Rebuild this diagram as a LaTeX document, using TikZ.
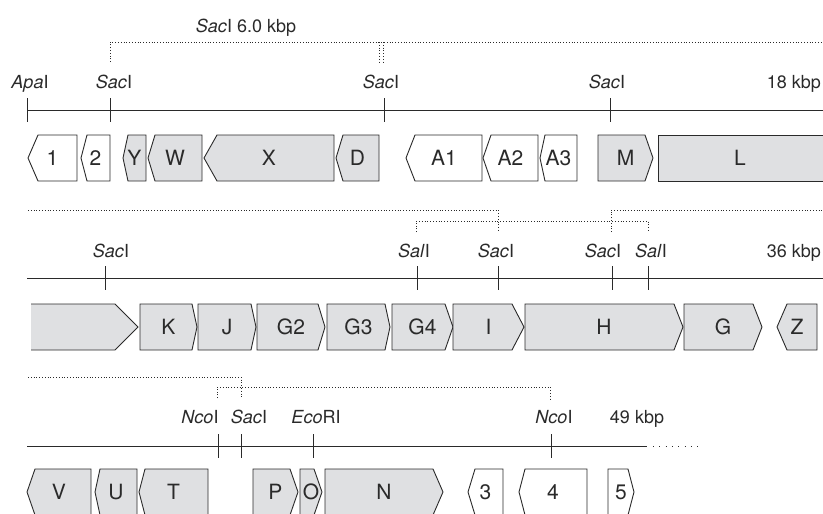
\documentclass[tikz,border=0pt]{standalone}
\usepackage{fontspec}
\setmainfont{TeX Gyre Heros}
\definecolor{genefill}{HTML}{DFE0E2}
\definecolor{ink}{HTML}{2A2A2A}
\tikzset{
  gene/.style={draw=ink, line width=0.9pt, line join=miter},
  shaded/.style={gene, fill=genefill},
  plain/.style={gene, fill=white},
  genelabel/.style={font=\fontsize{21}{21}\selectfont, text=ink, inner sep=0pt, text depth=0pt},
  site/.style={font=\fontsize{18}{18}\selectfont, text=ink, inner sep=0pt, anchor=base},
  mapline/.style={draw=ink, line width=0.9pt},
  sitetick/.style={draw=ink, line width=0.9pt},
  bracket/.style={draw=ink, line width=0.8pt, dotted},
  sparse/.style={draw=ink, line width=0.8pt, dash pattern=on 0.8pt off 5.5pt},
}
% gene pointing left: name, tip x, corner x, right x, top y, style, label
\newcommand\geneleft[7]{%
  \draw[#6] (#2,#5+23) -- (#3,#5) -- (#4,#5) -- (#4,#5+46) -- (#3,#5+46) -- cycle;
  \node[genelabel] (#1) at ({(#2+#4)/2},#5+23) {#7};}
% gene pointing right: name, left x, corner x, tip x, top y, style, label
\newcommand\generight[7]{%
  \draw[#6] (#2,#5) -- (#3,#5) -- (#4,#5+23) -- (#3,#5+46) -- (#2,#5+46) -- cycle;
  \node[genelabel] (#1) at ({(#2+#4)/2},#5+23) {#7};}
% restriction site: name, x, line y, label
\newcommand\cutsite[4]{%
  \coordinate (#1) at (#2,#3);
  \draw[sitetick] ([yshift=12pt]#1) -- ([yshift=-12pt]#1);}
\begin{document}
\begin{tikzpicture}[x=1pt,y=-1pt]
\useasboundingbox (0,0) rectangle (823,514);

% ---------------- row 1 : 0-18 kbp ----------------
\node[site, anchor=base] (frag) at (246,32) {\textit{Sac}I 6.0 kbp};
\draw[bracket] (110,62) -- (110,42) -- (826,42);
\draw[bracket] (379,42) -- (379,62);
\draw[bracket] (383,42) -- (383,62);

\coordinate (r1a) at (27,110);
\coordinate (r1b) at (826,110);
\draw[mapline] (r1a) -- (r1b);
\cutsite{apa}{27}{110}{}
\cutsite{sac1}{110}{110}{}
\cutsite{sac2}{384}{110}{}
\cutsite{sac3}{610}{110}{}
\node[site] (l-apa)  at (30,88)  {\textit{Apa}I};
\node[site] (l-sac1) at (114,88) {\textit{Sac}I};
\node[site] (l-sac2) at (381,88) {\textit{Sac}I};
\node[site] (l-sac3) at (607,88) {\textit{Sac}I};
\node[site, anchor=base east] (kb18) at (821,88) {18 kbp};

\geneleft{g1}{28}{38}{77}{135}{plain}{1}
\geneleft{g2}{81}{87}{110}{135}{plain}{2}
\geneleft{gY}{123}{128}{146}{135}{shaded}{Y}
\geneleft{gW}{148}{155}{202}{135}{shaded}{W}
\geneleft{gX}{204}{217}{334}{135}{shaded}{X}
\geneleft{gD}{336}{343}{379}{135}{shaded}{D}
\geneleft{gA1}{406}{415}{482}{135}{plain}{A1}
\geneleft{gA2}{483}{491}{538}{135}{plain}{A2}
\geneleft{gA3}{540}{545}{577}{135}{plain}{A3}
\generight{gM}{598}{645}{653}{135}{shaded}{M}
\draw[shaded] (658,135) rectangle (830,181);
\node[genelabel] (gL) at (740,158) {L};

% ---------------- row 2 : 18-36 kbp ----------------
\draw[bracket] (28,210) -- (498,210) -- (498,232);
\draw[bracket] (611,232) -- (611,210) -- (826,210);
\draw[bracket] (416,232) -- (416,221) -- (648,221) -- (648,232);

\coordinate (r2a) at (27,278);
\coordinate (r2b) at (826,278);
\draw[mapline] (r2a) -- (r2b);
\cutsite{sac4}{105}{278}{}
\cutsite{sal1}{417}{278}{}
\cutsite{sac5}{498}{278}{}
\cutsite{sac6}{612}{278}{}
\cutsite{sal2}{648}{278}{}
\node[site] (l-sac4) at (111,257) {\textit{Sac}I};
\node[site] (l-sal1) at (414,257) {\textit{Sal}I};
\node[site] (l-sac5) at (496,257) {\textit{Sac}I};
\node[site] (l-sac6) at (603,257) {\textit{Sac}I};
\node[site] (l-sal2) at (651,257) {\textit{Sal}I};
\node[site, anchor=base east] (kb36) at (821,257) {36 kbp};

% continuation of L
\fill[genefill] (31,304) -- (115,304) -- (138,327) -- (115,350) -- (31,350) -- cycle;
\draw[gene] (31,304) -- (115,304) -- (138,327) -- (115,350) -- (31,350);
\generight{gK}{140}{192}{197}{304}{shaded}{K}
\generight{gJ}{198}{251}{256}{304}{shaded}{J}
\generight{gG2}{257}{318}{325}{304}{shaded}{G2}
\generight{gG3}{327}{385}{390}{304}{shaded}{G3}
\generight{gG4}{392}{445}{453}{304}{shaded}{G4}
\generight{gI}{453}{512}{524}{304}{shaded}{I}
\generight{gH}{525}{674}{683}{304}{shaded}{H}
\generight{gG}{684}{753}{762}{304}{shaded}{G}
\geneleft{gZ}{777}{787}{817}{304}{shaded}{Z}

% ---------------- row 3 : 36-49 kbp ----------------
\draw[bracket] (28,377) -- (241,377) -- (241,398);
\draw[bracket] (217,398) -- (217,387) -- (550,387) -- (550,400);

\coordinate (r3a) at (27,446);
\coordinate (r3b) at (647,446);
\coordinate (r3c) at (702,446);
\draw[mapline] (r3a) -- (r3b);
\draw[sparse] ([xshift=6pt]r3b) -- (r3c);
\cutsite{nco1}{218}{446}{}
\cutsite{sac7}{241}{446}{}
\cutsite{eco}{313}{446}{}
\cutsite{nco2}{551}{446}{}
\node[site] (l-nco1) at (200,423) {\textit{Nco}I};
\node[site] (l-sac7) at (249,423) {\textit{Sac}I};
\node[site] (l-eco)  at (316,423) {\textit{Eco}RI};
\node[site] (l-nco2) at (554,423) {\textit{Nco}I};
\node[site] (kb49)   at (637,423) {49 kbp};

\geneleft{gV}{27}{35}{91}{469}{shaded}{V}
\geneleft{gU}{95}{100}{137}{469}{shaded}{U}
\geneleft{gT}{139}{145}{208}{469}{shaded}{T}
\generight{gP}{253}{290}{298}{469}{shaded}{P}
\generight{gO}{300}{314}{322}{469}{shaded}{O}
\generight{gN}{325}{433}{443}{469}{shaded}{N}
\geneleft{g3}{468}{475}{503}{469}{plain}{3}
\geneleft{g4}{519}{525}{587}{469}{plain}{4}
\generight{g5}{608}{628}{634}{469}{plain}{5}
\end{tikzpicture}
\end{document}
